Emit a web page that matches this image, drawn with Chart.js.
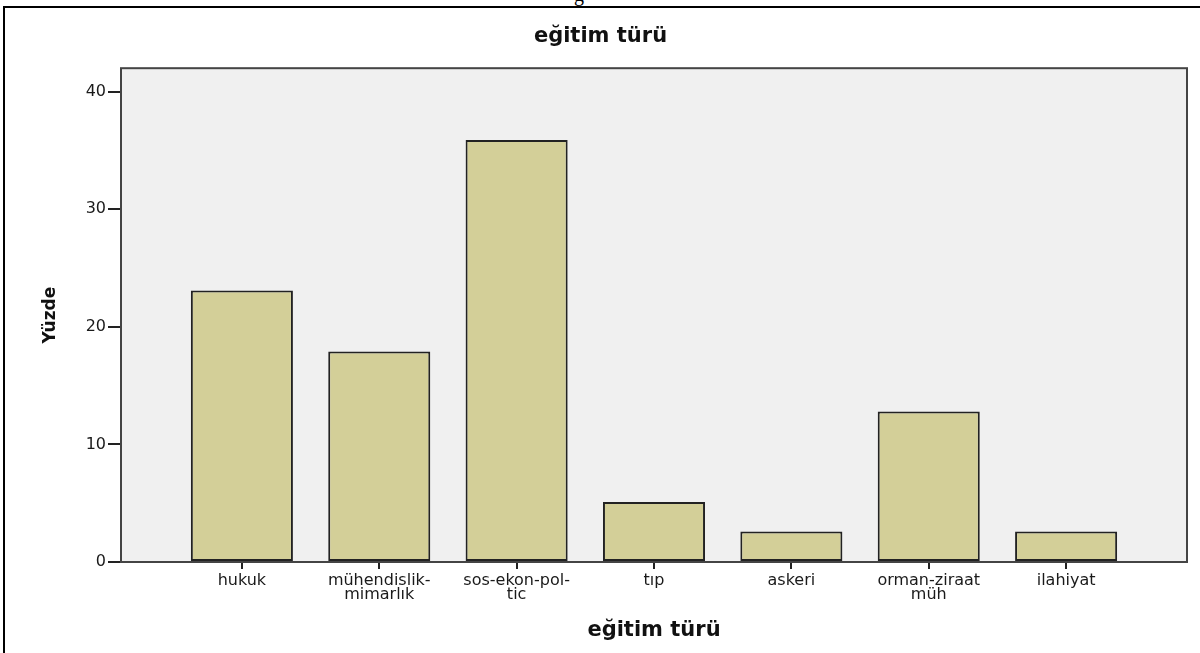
<!DOCTYPE html>
<html>
<head>
<meta charset="utf-8">
<script src="https://cdn.jsdelivr.net/npm/chart.js@4"></script>
<style>
    html, body { margin: 0; padding: 0; background: #fff; }
    #wrap { position: relative; width: 1200px; height: 653px; overflow: hidden; }
    #frame {
        position: absolute; left: 3px; top: 6px; width: 1300px; height: 700px;
        border-left: 2px solid #000; border-top: 2px solid #000;
    }
    #cut {
        position: absolute; left: 570px; top: 0; width: 30px; height: 6px; overflow: hidden;
    }
    #cut span {
        position: absolute; left: 4px; top: -17px;
        font: 20px "Liberation Serif", serif; color: #000;
    }
    #grafico { position: absolute; left: 0; top: 0; }
</style>
</head>
<body>
<div id="wrap">
    <div id="frame"></div>
    <div id="cut"><span>g</span></div>
    <canvas id="grafico" width="1200" height="653"></canvas>
</div>
<script>
// eğitim türü - yüzde dağılımı
const categories = ["hukuk", "mühendislik-mimarlık", "sos-ekon-pol-tic", "tıp", "askeri", "orman-ziraat müh", "ilahiyat"];
const tickLabels = [["hukuk"], ["mühendislik-", "mimarlık"], ["sos-ekon-pol-", "tic"], ["tıp"], ["askeri"], ["orman-ziraat", "müh"], ["ilahiyat"]];
const yuzde = [23.1, 17.9, 35.9, 5.1, 2.6, 12.8, 2.6];
const yTicks = [0, 10, 20, 30, 40];

const plotFrame = {
    id: "plotFrame",
    beforeDatasetsDraw(chart) {
        const { ctx, chartArea: a } = chart;
        ctx.save();
        ctx.fillStyle = "#f0f0f0";
        ctx.fillRect(a.left, a.top, a.right - a.left, a.bottom - a.top);
        ctx.restore();
    },
    afterDatasetsDraw(chart) {
        const { ctx, chartArea: a } = chart;
        ctx.save();
        ctx.strokeStyle = "#444";
        ctx.lineWidth = 2;
        ctx.strokeRect(a.left, a.top, a.right - a.left, a.bottom - a.top);
        ctx.restore();
    },
};

function renderGrafico() {
    const ctx = document.getElementById("grafico");
    const pontos = yuzde.map((v, i) => ({ x: i, y: v }));

    new Chart(ctx, {
        type: "bar",
        data: {
            labels: categories,
            datasets: [
                {
                    label: "Yüzde",
                    data: pontos,
                    backgroundColor: "#d3cf98",
                    borderColor: "#222",
                    borderWidth: 2,
                    borderSkipped: false,
                    barPercentage: 0.743,
                    categoryPercentage: 1,
                },
            ],
        },
        options: {
            responsive: false,
            animation: false,
            layout: {
                padding: { left: 14, right: 13, top: 0, bottom: 0 },
            },
            plugins: {
                legend: { display: false },
                tooltip: { enabled: false },
                title: {
                    display: true,
                    text: "eğitim türü",
                    color: "#111",
                    font: { family: "DejaVu Sans", size: 21, weight: "bold", lineHeight: 1.2 },
                    padding: { top: 24, bottom: 19 },
                },
            },
            scales: {
                x: {
                    type: "linear",
                    min: -0.88,
                    max: 6.88,
                    offset: false,
                    afterFit(scale) { scale.height = 91; },
                    afterBuildTicks(scale) {
                        scale.ticks = categories.map((_, i) => ({ value: i }));
                    },
                    grid: {
                        offset: false,
                        drawOnChartArea: false,
                        drawTicks: true,
                        tickLength: 7,
                        color: "#222",
                        lineWidth: 2,
                    },
                    border: { display: false },
                    ticks: {
                        autoSkip: false,
                        maxRotation: 0,
                        padding: 5,
                        color: "#1a1a1a",
                        font: { family: "DejaVu Sans", size: 16, lineHeight: 0.85 },
                        callback: (v) => tickLabels[v] || "",
                    },
                    title: {
                        display: true,
                        text: "eğitim türü",
                        color: "#111",
                        font: { family: "DejaVu Sans", size: 21, weight: "bold", lineHeight: 1.2 },
                        padding: { top: 0, bottom: 10 },
                    },
                },
                y: {
                    min: 0,
                    max: 42,
                    afterFit(scale) { scale.width = 107; },
                    afterBuildTicks(scale) {
                        scale.ticks = yTicks.map((v) => ({ value: v }));
                    },
                    grid: {
                        drawOnChartArea: false,
                        drawTicks: true,
                        tickLength: 13,
                        color: "#222",
                        lineWidth: 2,
                    },
                    border: { display: false },
                    ticks: {
                        padding: 2,
                        color: "#1a1a1a",
                        font: { family: "DejaVu Sans", size: 16 },
                    },
                    title: {
                        display: true,
                        text: "Yüzde",
                        color: "#111",
                        font: { family: "DejaVu Sans", size: 17, weight: "bold", lineHeight: 1.2 },
                        padding: { top: 26, bottom: 0 },
                    },
                },
            },
        },
        plugins: [plotFrame],
    });
}

renderGrafico();
</script>
</body>
</html>
